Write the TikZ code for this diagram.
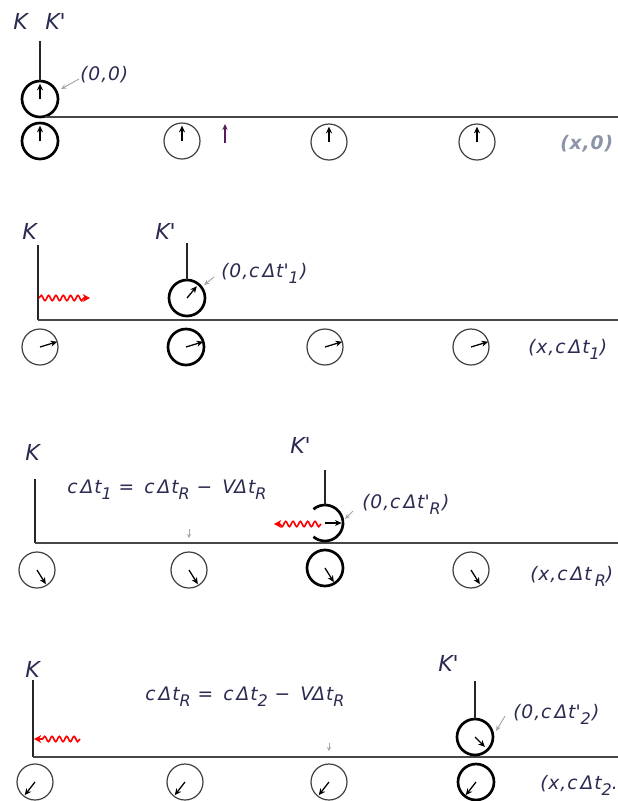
\documentclass[tikz,border=0pt]{standalone}
\usepackage{fontspec}
\setmainfont{DejaVu Sans}[LetterSpace=5]
\usetikzlibrary{arrows.meta,decorations.pathmorphing,calc}
\definecolor{txt}{rgb}{0.17,0.17,0.32}
\definecolor{axisc}{gray}{0.28}
\definecolor{lbl}{rgb}{0.55,0.58,0.66}
\definecolor{purp}{rgb}{0.36,0.1,0.38}
\newcommand\lsub[1]{\raisebox{-0.6ex}{\fontsize{12}{12}\selectfont #1}}
\newcommand\pr{\textquotesingle}
\begin{document}
\begin{tikzpicture}[x=0.75pt,y=-0.75pt,
  thinclock/.style={circle,draw=black!75,line width=0.9pt,minimum size=27pt,inner sep=0pt,outer sep=0pt},
  boldclock/.style={circle,draw=black,line width=2pt,minimum size=27pt,inner sep=0pt,outer sep=0pt},
  ghost/.style={circle,minimum size=27pt,inner sep=0pt,outer sep=0pt},
  hand/.style={-{Stealth[length=5pt,width=4.5pt]},line width=0.95pt,black,shorten >=2pt},
  stem/.style={line width=1pt,black!85},
  axisline/.style={line width=1.1pt,axisc},
  wave/.style={red,line width=1.2pt,decorate,
    decoration={snake,amplitude=2pt,segment length=5.5pt,post length=4pt},
    -{Stealth[length=5.5pt,width=6pt]}},
  pointer/.style={gray!70,line width=0.7pt,-{Stealth[length=4pt,width=3.5pt]}},
  big/.style={font=\fontsize{16.5}{18}\selectfont\itshape,text=txt,inner sep=0pt},
  lab/.style={font=\fontsize{14}{16}\selectfont\itshape,text=txt,inner sep=0pt},
  xlab/.style={font=\fontsize{14}{16}\selectfont\itshape\bfseries,text=lbl,inner sep=0pt}]
\fill[white] (0,0) rectangle (618,801);
\clip (0,0) rectangle (618,801);

% ---------------- Panel 1 ----------------
\node[big,anchor=base west] (K1) at (13,29) {K};
\node[big,anchor=base west] (Kp1) at (45,29) {K\pr};
\node[boldclock] (kc1) at (40,99) {};
\coordinate (kt1) at (40,41);
\draw[stem] (kt1) -- (kc1.north);
\draw[hand] (kc1.center) -- (kc1.90);
\node[lab,anchor=base west] (o1) at (80,80) {(0,0)};
\coordinate (p1s) at (79,79);
\coordinate (p1e) at (61,89);
\draw[pointer] (p1s) -- (p1e);
\coordinate (a1s) at (45,117);
\coordinate (a1e) at (620,117);
\draw[axisline] (a1s) -- (a1e);
\node[boldclock] (b11) at (40,141) {};
\node[thinclock] (b12) at (182,141) {};
\node[thinclock] (b13) at (329,142) {};
\node[thinclock] (b14) at (477,142) {};
\foreach \c in {b11,b12,b13,b14} \draw[hand] (\c.center) -- (\c.90);
\coordinate (u1s) at (225,143);
\coordinate (u1e) at (225,124);
\draw[purp,line width=1pt,-{Stealth[length=4.5pt,width=4pt]}] (u1s) -- (u1e);
\node[xlab,anchor=base west] (x1) at (560,149) {(x,0)};

% ---------------- Panel 2 ----------------
\node[big,anchor=base west] (K2) at (22,239) {K};
\node[big,anchor=base west] (Kp2) at (155,239) {K\pr};
\coordinate (kt2a) at (38,245);
\coordinate (a2s) at (38,320);
\coordinate (a2e) at (620,320);
\draw[stem] (kt2a) -- (a2s);
\draw[axisline] (a2s) -- (a2e);
\coordinate (w2s) at (39,298);
\coordinate (w2e) at (90,298);
\draw[wave] (w2s) -- (w2e);
\node[boldclock] (kc2) at (187,298) {};
\coordinate (kt2) at (187,243);
\draw[stem] (kt2) -- (kc2.north);
\draw[hand] (kc2.center) -- (kc2.50);
\node[lab,anchor=base west] (o2) at (221,277) {(0,c\,Δt\pr\lsub{1}\kern1pt)};
\coordinate (p2s) at (214,277);
\coordinate (p2e) at (204,285);
\draw[pointer] (p2s) -- (p2e);
\node[thinclock] (b21) at (40,347) {};
\node[boldclock] (b22) at (186,347) {};
\node[thinclock] (b23) at (325,347) {};
\node[thinclock] (b24) at (471,347) {};
\foreach \c in {b21,b22,b23,b24} \draw[hand,shorten >=0pt] (\c.center) -- (\c.17);
\node[lab,anchor=base west] (x2) at (528,353) {(x,c\,Δt\lsub{1})};

% ---------------- Panel 3 ----------------
\node[big,anchor=base west] (K3) at (25,460) {K};
\node[big,anchor=base west] (Kp3) at (290,453) {K\pr};
\coordinate (kt3a) at (35,479);
\coordinate (a3s) at (35,543);
\coordinate (a3e) at (620,543);
\draw[stem] (kt3a) -- (a3s);
\draw[axisline] (a3s) -- (a3e);
\node[lab,anchor=base west] (eq1) at (67,493) {c\,Δt\lsub{1} = \,c\,Δt\lsub{R} − \,V\kern-0.5ptΔt\lsub{R}};
\coordinate (d3s) at (189,529);
\coordinate (d3e) at (189,538);
\draw[gray!70,line width=0.6pt,-{Stealth[length=3pt,width=3pt]}] (d3s) -- (d3e);
\node[ghost] (kc3) at (325,523) {};
\draw[line width=2pt] (kc3.130) arc[start angle=130,end angle=-130,radius=13.5pt];
\coordinate (kt3) at (325,470);
\draw[stem] (kt3) -- (kc3.north);
\draw[hand,shorten >=1pt] (kc3.center) -- (kc3.0);
\coordinate (w3s) at (321,524);
\coordinate (w3e) at (274,524);
\draw[wave] (w3s) -- (w3e);
\node[lab,anchor=base west] (o3) at (362,508) {(0,c\,Δt\pr\lsub{R}\kern1pt)};
\coordinate (p3s) at (353,511);
\coordinate (p3e) at (345,519);
\draw[pointer] (p3s) -- (p3e);
\node[thinclock] (b31) at (37,570) {};
\node[thinclock] (b32) at (189,570) {};
\node[boldclock] (b33) at (325,568) {};
\node[thinclock] (b34) at (471,570) {};
\foreach \c in {b31,b32,b33,b34} \draw[hand,shorten >=1pt] (\c.center) -- (\c.-58);
\node[lab,anchor=base west] (x3) at (530,580) {(x,c\,Δt\,\lsub{R})};

% ---------------- Panel 4 ----------------
\node[big,anchor=base west] (K4) at (25,677) {K};
\node[big,anchor=base west] (Kp4) at (438,671) {K\pr};
\coordinate (kt4a) at (33,680);
\coordinate (a4s) at (33,757);
\coordinate (a4e) at (620,757);
\draw[stem] (kt4a) -- (a4s);
\draw[axisline] (a4s) -- (a4e);
\coordinate (w4s) at (80,739);
\coordinate (w4e) at (34,739);
\draw[wave] (w4s) -- (w4e);
\node[lab,anchor=base west] (eq2) at (145,700) {c\,Δt\lsub{R} = \,c\,Δt\lsub{2} − \,V\kern-0.5ptΔt\lsub{R}};
\coordinate (d4s) at (329,743);
\coordinate (d4e) at (329,751);
\draw[gray!70,line width=0.6pt,-{Stealth[length=3pt,width=3pt]}] (d4s) -- (d4e);
\node[boldclock] (kc4) at (475,737) {};
\coordinate (kt4) at (475,681);
\draw[stem] (kt4) -- (kc4.north);
\draw[hand,shorten >=3pt] (kc4.center) -- (kc4.-45);
\node[lab,anchor=base west] (o4) at (513,718) {(0,c\,Δt\pr\lsub{2}\kern1pt)};
\coordinate (p4s) at (505,716);
\coordinate (p4e) at (496,731);
\draw[pointer] (p4s) -- (p4e);
\node[thinclock] (b41) at (35,782) {};
\node[thinclock] (b42) at (185,782) {};
\node[thinclock] (b43) at (329,782) {};
\node[boldclock] (b44) at (476,782) {};
\foreach \c in {b41,b42,b43,b44} \draw[hand,shorten >=1pt] (\c.center) -- (\c.-128);
\node[lab,anchor=base west] (x4) at (540,789) {(x,c\,Δt\lsub{2}.};
\end{tikzpicture}
\end{document}
